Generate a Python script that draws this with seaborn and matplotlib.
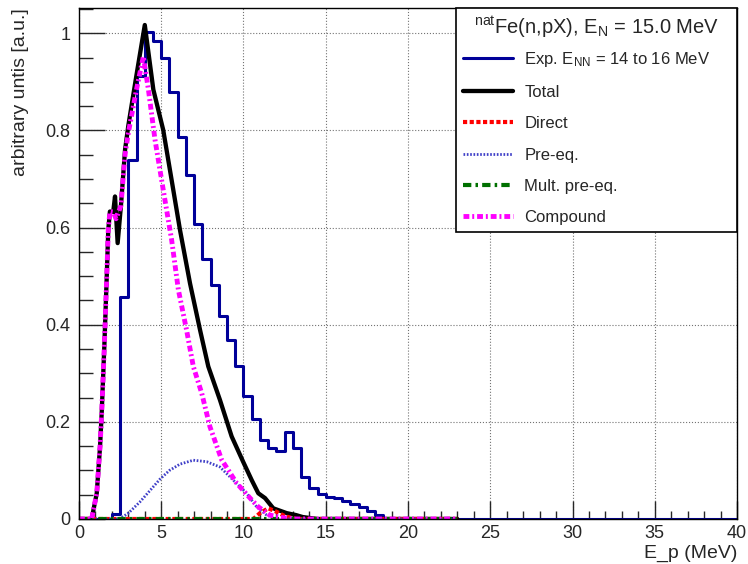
import numpy as np
import pandas as pd
import matplotlib
matplotlib.use('Agg')
import matplotlib.pyplot as plt
from matplotlib.lines import Line2D
from matplotlib.ticker import MultipleLocator, FormatStrFormatter
import seaborn as sns

# Experimental spectrum (0.5 MeV bins, lower edges of non-empty bins)
exp_bin_lo = [2.0, 2.5, 3.0, 3.5, 4.0, 4.5, 5.0, 5.5, 6.0, 6.5, 7.0, 7.5,
              8.0, 8.5, 9.0, 9.5, 10.0, 10.5, 11.0, 11.5, 12.0, 12.5, 13.0,
              13.5, 14.0, 14.5, 15.0, 15.5, 16.0, 16.5, 17.0, 17.5, 18.0]
exp_values = [0.010, 0.458, 0.739, 0.911, 1.002, 0.985, 0.950, 0.880, 0.786,
              0.709, 0.607, 0.536, 0.481, 0.417, 0.369, 0.314, 0.254, 0.205,
              0.163, 0.146, 0.139, 0.179, 0.146, 0.086, 0.063, 0.051, 0.045,
              0.043, 0.038, 0.031, 0.025, 0.017, 0.008]

# Model calculation
total_E = [0.0, 0.77, 1.08, 1.28, 1.38, 1.54, 1.68, 1.78, 1.88, 2.08, 2.19,
           2.35, 2.55, 2.8, 3.0, 3.5, 4.0, 4.52, 5.12, 5.73, 6.14, 6.75,
           7.36, 7.86, 8.57, 9.28, 9.99, 10.5, 10.9, 11.31, 11.81, 12.63,
           13.2, 13.6, 14.5, 23.0]
total = [0.0, 0.0, 0.053, 0.149, 0.218, 0.355, 0.492, 0.595, 0.633, 0.632,
         0.664, 0.568, 0.645, 0.76, 0.81, 0.915, 1.017, 0.884, 0.801, 0.678,
         0.595, 0.485, 0.389, 0.314, 0.245, 0.170, 0.117, 0.080, 0.053,
         0.043, 0.022, 0.012, 0.008, 0.004, 0.0, 0.0]

direct_E = [0.0, 10.6, 11.0, 11.5, 12.0, 12.5, 13.2, 23.0]
direct = [0.0, 0.0, 0.012, 0.022, 0.015, 0.006, 0.0, 0.0]

preeq_E = [0.0, 2.45, 3.0, 3.7, 4.3, 4.92, 5.5, 6.14, 6.95, 7.76, 8.57, 9.38,
           10.19, 10.8, 11.41, 12.0, 23.0]
preeq = [0.0, 0.0, 0.012, 0.035, 0.058, 0.082, 0.100, 0.113, 0.121, 0.118,
         0.107, 0.080, 0.053, 0.025, 0.008, 0.0, 0.0]

mult_E = [0.0, 23.0]
mult = [0.0, 0.0]

compound_E = [0.0, 0.77, 1.08, 1.28, 1.38, 1.54, 1.68, 1.78, 1.88, 2.08,
              2.25, 2.55, 2.8, 3.0, 3.5, 3.91, 4.22, 4.62, 5.12, 5.63, 6.04,
              6.54, 6.95, 7.46, 7.96, 8.67, 9.58, 10.4, 10.9, 11.6, 12.5,
              13.0, 23.0]
compound = [0.0, 0.0, 0.053, 0.149, 0.218, 0.355, 0.492, 0.595, 0.633, 0.632,
            0.618, 0.645, 0.75, 0.795, 0.885, 0.952, 0.884, 0.781, 0.678,
            0.575, 0.472, 0.389, 0.314, 0.259, 0.190, 0.122, 0.074, 0.043,
            0.025, 0.008, 0.002, 0.0, 0.0]

exp_df = pd.DataFrame({'E': np.array(exp_bin_lo) + 0.25, 'w': exp_values})

# Stile
sns.set_style('ticks', {'xtick.direction': 'in', 'ytick.direction': 'in'})
plt.rcParams['font.family'] = ['Liberation Sans', 'DejaVu Sans']
plt.rcParams['mathtext.fontset'] = 'custom'
plt.rcParams['mathtext.rm'] = 'Liberation Sans'
plt.rcParams['mathtext.it'] = 'Liberation Sans:italic'

fig = plt.figure(figsize=(7.48, 5.64), dpi=100)
ax = fig.add_axes([0.1056, 0.0798, 0.8797, 0.906])

c_exp = '#000099'
c_pre = '#4040c8'
c_mult = '#007000'
ls_direct = (0, (1, 0.6))
ls_pre = (0, (0.6, 0.6))
ls_mult = (0, (2, 1, 0.6, 1))
ls_comp = (0, (1.2, 0.6, 0.4, 0.6))

# Grafico
sns.histplot(data=exp_df, x='E', weights='w', binwidth=0.5, binrange=(0, 40),
             element='step', fill=False, color=c_exp, linewidth=2.2, ax=ax)
sns.lineplot(x=total_E, y=total, color='black', linewidth=3.1, ax=ax)
sns.lineplot(x=direct_E, y=direct, color='red', linewidth=3.0,
             linestyle=ls_direct, ax=ax)
sns.lineplot(x=preeq_E, y=preeq, color=c_pre, linewidth=2.0,
             linestyle=ls_pre, ax=ax)
sns.lineplot(x=mult_E, y=mult, color=c_mult, linewidth=3.0,
             linestyle=ls_mult, ax=ax)
sns.lineplot(x=compound_E, y=compound, color='magenta', linewidth=3.5,
             linestyle=ls_comp, ax=ax)

ax.set_xlim(0, 40)
ax.set_ylim(0, 1.052)
ax.xaxis.set_major_locator(MultipleLocator(5))
ax.xaxis.set_minor_locator(MultipleLocator(1))
ax.yaxis.set_major_locator(MultipleLocator(0.2))
ax.yaxis.set_minor_locator(MultipleLocator(0.05))
ax.yaxis.set_major_formatter(FormatStrFormatter('%g'))
ax.tick_params(axis='x', which='major', length=13, width=1, labelsize=13, pad=4)
ax.tick_params(axis='x', which='minor', length=6, width=1)
ax.tick_params(axis='y', which='major', length=19, width=1, labelsize=13, pad=6)
ax.tick_params(axis='y', which='minor', length=10, width=1)
ax.grid(True, which='major', color='0.45', linestyle=':', linewidth=0.8)
for s in ax.spines.values():
    s.set_color('black')
    s.set_linewidth(1.0)

ax.set_xlabel('E_p (MeV)', fontsize=14, loc='right', labelpad=2)
ax.set_ylabel('arbitrary untis [a.u.]', fontsize=14, loc='top', labelpad=12)

handles = [
    Line2D([], [], color=c_exp, linewidth=2.2),
    Line2D([], [], color='black', linewidth=3.1),
    Line2D([], [], color='red', linewidth=3.0, linestyle=ls_direct),
    Line2D([], [], color=c_pre, linewidth=2.0, linestyle=ls_pre),
    Line2D([], [], color=c_mult, linewidth=3.0, linestyle=ls_mult),
    Line2D([], [], color='magenta', linewidth=3.5, linestyle=ls_comp),
]
labels = [r'Exp. E$_{\rm NN}$ = 14 to 16 MeV', 'Total', 'Direct', 'Pre-eq.',
          'Mult. pre-eq.', 'Compound']
leg = ax.legend(handles, labels, loc='upper left', mode='expand',
                bbox_to_anchor=(0.573, 0, 0.427, 1.0), borderaxespad=0,
                fontsize=12, title=r'$^{\rm nat}$Fe(n,pX), E$_{\rm N}$ = 15.0 MeV',
                title_fontsize=14.5, frameon=True, fancybox=False,
                edgecolor='black', framealpha=1, handlelength=3.0,
                handletextpad=0.7, labelspacing=0.98, borderpad=0.4)
leg.get_frame().set_linewidth(1.2)
# meno spazio tra titolo e voci
leg._legend_box.sep = 6.8

plt.savefig('out.png', dpi=100)
